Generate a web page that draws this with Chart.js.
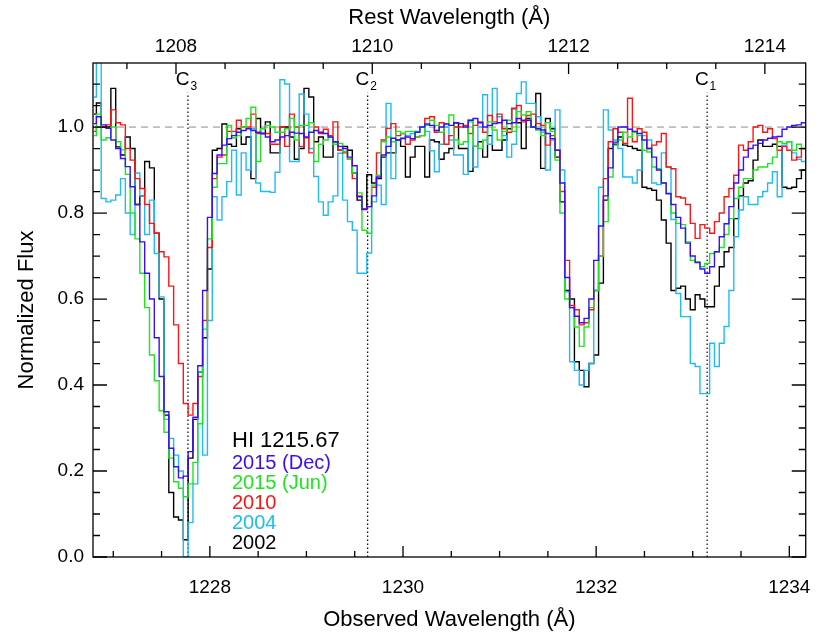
<!DOCTYPE html>
<html>
<head>
<meta charset="utf-8">
<script src="https://cdn.jsdelivr.net/npm/chart.js@4.4.1/dist/chart.umd.min.js"></script>
<style>
  html, body { margin: 0; padding: 0; background: #fff; }
  #wrap { width: 830px; height: 642px; }
</style>
</head>
<body>
<div id="wrap"><canvas id="spec" width="830" height="642"></canvas></div>
<script>
// observed wavelength grid: bin centres in Angstrom
const binStart = 1226.80;
const binWidth = 0.05;
const redshift = 0.016266; // rest = observed / (1 + z)

const flux2015Dec = [
  1.008, 1.024, 1.005, 0.997, 0.970, 0.950, 0.927, 0.908, 0.861, 0.820,
  0.733, 0.660, 0.600, 0.510, 0.420, 0.338, 0.253, 0.210, 0.184, 0.188,
  0.245, 0.325, 0.445, 0.620, 0.790, 0.892, 0.935, 0.958, 0.973, 0.980,
  0.988, 0.992, 0.996, 0.992, 0.988, 0.985, 0.977, 0.966, 0.970, 0.977,
  0.980, 0.988, 0.986, 0.985, 0.977, 0.988, 0.992, 0.988, 0.985, 0.977,
  0.966, 0.955, 0.950, 0.930, 0.910, 0.838, 0.808, 0.815, 0.840, 0.884,
  0.935, 0.955, 0.974, 0.970, 0.973, 0.977, 0.973, 0.988, 1.000, 1.007,
  1.004, 0.992, 1.000, 1.007, 1.004, 1.010, 1.008, 1.000, 1.016, 1.020,
  1.010, 1.000, 1.004, 1.008, 1.010, 1.016, 1.008, 1.010, 1.020, 1.016,
  1.016, 1.000, 0.996, 0.993, 0.985, 0.973, 0.946, 0.870, 0.650, 0.580,
  0.560, 0.545, 0.555, 0.600, 0.690, 0.770, 0.840, 0.905, 0.965, 1.000,
  1.000, 0.995, 0.990, 0.985, 0.970, 0.950, 0.930, 0.900, 0.870, 0.845,
  0.820, 0.790, 0.765, 0.730, 0.700, 0.685, 0.670, 0.660, 0.675, 0.710,
  0.745, 0.775, 0.815, 0.870, 0.900, 0.930, 0.950, 0.958, 0.962, 0.970,
  0.974, 0.977, 0.978, 0.995, 1.000, 1.004, 1.005, 1.010, 1.012
];
const flux2015Jun = [
  0.980, 1.030, 0.970, 0.975, 1.000, 0.966, 0.947, 0.890, 0.800, 0.740,
  0.660, 0.580, 0.470, 0.410, 0.340, 0.290, 0.230, 0.175, 0.160, 0.140,
  0.170, 0.220, 0.310, 0.530, 0.740, 0.860, 0.915, 0.915, 1.004, 0.975,
  0.980, 1.000, 1.020, 1.046, 0.920, 0.996, 1.004, 1.000, 0.988, 0.988,
  0.996, 1.020, 0.970, 1.004, 1.004, 1.010, 0.920, 0.960, 0.970, 0.977,
  0.960, 0.962, 0.943, 0.925, 0.893, 0.847, 0.760, 0.753, 0.865, 0.888,
  0.966, 0.977, 0.966, 0.990, 0.985, 0.990, 0.990, 0.977, 0.980, 1.004,
  1.016, 1.004, 0.988, 1.008, 1.028, 0.970, 0.960, 0.966, 1.012, 0.955,
  0.950, 0.970, 1.012, 0.993, 0.970, 0.990, 1.016, 0.990, 1.036, 1.028,
  1.036, 1.000, 0.993, 0.980, 1.010, 0.990, 0.923, 0.800, 0.600, 0.580,
  0.535, 0.490, 0.535, 0.580, 0.620, 0.700, 0.780, 0.884, 0.958, 0.970,
  0.988, 0.977, 0.988, 0.980, 0.946, 0.942, 0.907, 0.903, 0.870, 0.846,
  0.800, 0.776, 0.773, 0.733, 0.690, 0.686, 0.675, 0.683, 0.706, 0.710,
  0.720, 0.750, 0.787, 0.834, 0.860, 0.880, 0.880, 0.900, 0.907, 0.907,
  0.915, 0.930, 0.966, 0.962, 0.966, 0.946, 0.960, 0.950, 0.945
];
const flux2010 = [
  0.990, 1.000, 1.000, 1.005, 1.040, 1.010, 1.005, 0.950, 0.923, 0.880,
  0.857, 0.820, 0.776, 0.753, 0.710, 0.698, 0.630, 0.540, 0.450, 0.357,
  0.330, 0.357, 0.420, 0.550, 0.720, 0.880, 0.930, 0.935, 0.990, 0.990,
  1.016, 1.000, 1.000, 1.030, 0.985, 0.985, 0.985, 0.960, 0.960, 1.000,
  0.955, 1.030, 1.000, 0.955, 0.975, 0.940, 1.000, 0.985, 0.995, 0.980,
  1.012, 0.946, 0.940, 0.925, 0.880, 0.840, 0.810, 0.815, 0.860, 0.940,
  0.970, 0.997, 1.008, 0.980, 0.985, 0.960, 0.970, 0.977, 0.980, 1.020,
  1.024, 0.988, 1.010, 0.960, 0.980, 1.000, 1.000, 1.004, 0.985, 1.004,
  1.012, 0.988, 1.027, 1.012, 1.030, 0.996, 0.988, 1.043, 1.050, 1.012,
  1.027, 1.030, 1.008, 1.004, 0.958, 0.980, 0.946, 0.850, 0.690, 0.585,
  0.575, 0.540, 0.545, 0.575, 0.620, 0.700, 0.880, 0.966, 0.996, 0.988,
  0.962, 1.067, 0.966, 0.996, 0.988, 0.950, 0.958, 0.966, 0.985, 0.907,
  0.903, 0.838, 0.835, 0.820, 0.776, 0.741, 0.773, 0.765, 0.753, 0.780,
  0.800, 0.838, 0.857, 0.888, 0.958, 0.946, 0.966, 1.000, 1.004, 0.988,
  0.996, 0.973, 0.946, 0.955, 0.946, 0.923, 0.930, 0.950, 0.955
];
const flux2004 = [
  1.070, 1.200, 0.834, 0.826, 0.830, 0.842, 0.880, 0.800, 0.750, 0.893,
  0.840, 0.750, 0.830, 0.706, 0.605, 0.320, 0.276, 0.237, 0.200, 0.000,
  0.080, 0.170, 0.430, 0.237, 0.550, 0.838, 0.784, 0.838, 0.873, 0.946,
  0.842, 0.940, 0.900, 0.996, 0.870, 0.850, 0.850, 0.848, 0.895, 1.110,
  1.100, 0.920, 0.920, 1.077, 1.030, 0.950, 0.885, 0.826, 0.795, 0.826,
  0.840, 0.939, 0.830, 0.780, 0.760, 0.660, 0.660, 0.707, 0.826, 0.865,
  0.820, 1.055, 0.880, 0.970, 0.975, 0.980, 0.985, 0.990, 1.000, 0.990,
  0.945, 0.896, 0.960, 1.000, 0.970, 0.935, 0.935, 0.890, 1.016, 0.907,
  1.000, 1.075, 0.960, 1.090, 1.024, 0.980, 0.930, 0.960, 1.078, 1.105,
  1.055, 1.055, 1.024, 0.988, 0.900, 0.970, 1.040, 0.900, 0.617, 0.454,
  0.434, 0.400, 0.434, 0.450, 0.620, 0.860, 1.040, 0.993, 0.970, 0.950,
  0.884, 0.884, 0.870, 0.900, 0.980, 0.970, 0.870, 0.866, 0.940, 0.907,
  0.785, 0.613, 0.559, 0.559, 0.450, 0.443, 0.380, 0.380, 0.497, 0.443,
  0.497, 0.536, 0.620, 0.745, 0.807, 0.838, 0.820, 0.820, 0.838, 0.850,
  0.870, 0.896, 0.838, 0.958, 0.966, 0.940, 0.925, 0.920, 0.920
];
const flux2002 = [
  1.030, 1.056, 1.000, 1.000, 1.090, 0.954, 0.935, 0.977, 0.950, 0.820,
  0.840, 0.920, 0.905, 0.753, 0.600, 0.330, 0.150, 0.093, 0.086, 0.040,
  0.230, 0.320, 0.430, 0.510, 0.670, 0.946, 0.950, 1.007, 0.960, 0.955,
  0.996, 0.960, 0.977, 0.880, 1.020, 0.985, 1.012, 0.940, 0.940, 1.000,
  1.000, 0.977, 0.925, 0.950, 1.090, 1.070, 0.966, 0.977, 0.930, 0.930,
  0.966, 0.946, 0.955, 0.946, 0.893, 0.830, 0.810, 0.889, 0.870, 0.880,
  0.930, 0.940, 0.940, 0.970, 0.955, 0.884, 0.930, 0.955, 0.955, 0.884,
  0.970, 0.966, 0.925, 0.940, 0.950, 1.010, 0.950, 0.950, 0.897, 0.955,
  0.966, 0.930, 0.980, 0.946, 0.946, 0.970, 0.996, 1.043, 1.010, 0.950,
  1.020, 1.000, 1.078, 0.904, 1.020, 0.996, 0.930, 0.826, 0.620, 0.600,
  0.454, 0.434, 0.396, 0.450, 0.470, 0.637, 0.830, 0.950, 0.960, 0.977,
  0.958, 0.955, 0.950, 0.946, 0.860, 0.857, 0.853, 0.830, 0.784, 0.730,
  0.620, 0.625, 0.630, 0.600, 0.575, 0.610, 0.600, 0.582, 0.582, 0.630,
  0.675, 0.710, 0.720, 0.787, 0.840, 0.870, 0.875, 0.923, 0.970, 0.955,
  0.955, 0.960, 0.955, 0.860, 0.857, 0.860, 0.880, 0.900, 0.905
];

const seriesNames = ["2015 (Dec)", "2015 (Jun)", "2010", "2004", "2002"];
const seriesColors = ["#3a0dff", "#1ee61e", "#ff1414", "#1ebcf5", "#000000"];
const seriesFlux = [flux2015Dec, flux2015Jun, flux2010, flux2004, flux2002];

// absorption components C3, C2, C1 (observed wavelength)
const compNames = ["3", "2", "1"];
const compWave = [1227.773, 1229.634, 1233.149];

const obsTicks = [1228, 1230, 1232, 1234];
const restTicks = [1208, 1210, 1212, 1214];
const fluxTicks = [0.0, 0.2, 0.4, 0.6, 0.8, 1.0];

const xMin = 1226.79, xMax = 1234.17;
const yMin = 0, yMax = 1.149;

const wavelength = flux2015Dec.map((_, i) => +(binStart + binWidth * i).toFixed(3));

const fontName = "'Liberation Sans', Arial, sans-serif";

let datasets = seriesFlux.map((arr, k) => ({
  label: seriesNames[k],
  data: wavelength.map((w, i) => ({ x: w, y: arr[i] })),
  borderColor: seriesColors[k],
  borderWidth: 1.4,
  stepped: "middle",
  pointRadius: 0,
  fill: false,
}));

// continuum level
datasets.push({
  label: "continuum",
  data: [{ x: xMin, y: 1 }, { x: xMax, y: 1 }],
  borderColor: "#8c8c8c",
  borderWidth: 1,
  borderDash: [7, 5],
  pointRadius: 0,
});

compWave.forEach((w) => {
  datasets.push({
    label: "C",
    data: [{ x: w, y: 0 }, { x: w, y: 1.08 }],
    borderColor: "#000",
    borderWidth: 1.2,
    borderDash: [1.5, 2.5],
    pointRadius: 0,
  });
});

function tickSteps(min, max, step) {
  let out = [];
  for (let v = Math.ceil(min / step) * step; v <= max + 1e-9; v += step) {
    out.push(+v.toFixed(4));
  }
  return out;
}

function isMultiple(v, m) {
  return Math.abs(v / m - Math.round(v / m)) < 1e-6;
}

// IDL-like box with inward ticks, component labels, text legend
const decor = {
  id: "decor",
  afterDraw(chart) {
    const ctx = chart.ctx;
    const a = chart.chartArea;
    const sx = chart.scales.x, st = chart.scales.xTop, sy = chart.scales.y;
    ctx.save();
    ctx.strokeStyle = "#000";
    ctx.lineWidth = 1.3;
    ctx.strokeRect(a.left, a.top, a.right - a.left, a.bottom - a.top);

    ctx.beginPath();
    tickSteps(xMin, xMax, 0.5).forEach((v) => {
      const p = sx.getPixelForValue(v);
      const len = isMultiple(v, 2) ? 11 : 6;
      ctx.moveTo(p, a.bottom);
      ctx.lineTo(p, a.bottom - len);
    });
    tickSteps(st.min, st.max, 0.5).forEach((v) => {
      const p = st.getPixelForValue(v);
      const len = isMultiple(v, 2) ? 11 : 6;
      ctx.moveTo(p, a.top);
      ctx.lineTo(p, a.top + len);
    });
    tickSteps(yMin, yMax, 0.05).forEach((v) => {
      const p = sy.getPixelForValue(v);
      const len = isMultiple(v, 0.2) ? 14 : 7;
      ctx.moveTo(a.left, p);
      ctx.lineTo(a.left + len, p);
      ctx.moveTo(a.right, p);
      ctx.lineTo(a.right - len, p);
    });
    ctx.stroke();

    // component labels
    ctx.fillStyle = "#000";
    ctx.textBaseline = "alphabetic";
    compWave.forEach((w, k) => {
      const p = sx.getPixelForValue(w);
      ctx.font = "19px " + fontName;
      ctx.textAlign = "right";
      ctx.fillText("C", p + 1.5, a.top + 22);
      ctx.font = "12px " + fontName;
      ctx.textAlign = "left";
      ctx.fillText(compNames[k], p + 2.5, a.top + 27);
    });

    // legend text
    const lx = a.left + 139;
    ctx.textAlign = "left";
    ctx.textBaseline = "middle";
    ctx.font = "22px " + fontName;
    ctx.fillStyle = "#000";
    ctx.fillText("HI 1215.67", lx, a.bottom - 116);
    ctx.font = "20px " + fontName;
    seriesNames.forEach((name, k) => {
      ctx.fillStyle = seriesColors[k];
      ctx.fillText(name, lx, a.bottom - 94 + k * 20.2);
    });
    ctx.restore();
  },
};

const tickFont = { family: fontName, size: 19 };
const titleFont = { family: fontName, size: 22 };

const config = {
  type: "line",
  data: { datasets: datasets },
  options: {
    responsive: false,
    animation: false,
    layout: { padding: { left: 0, right: 23, top: 0, bottom: 0 } },
    plugins: {
      legend: { display: false },
      tooltip: { enabled: false },
    },
    scales: {
      x: {
        type: "linear",
        position: "bottom",
        min: xMin,
        max: xMax,
        grid: { display: false, drawTicks: false },
        border: { display: false },
        afterBuildTicks: (s) => { s.ticks = obsTicks.map((v) => ({ value: v })); },
        afterFit: (s) => { s.height = 85; },
        ticks: {
          font: tickFont, color: "#000", padding: 19,
          maxRotation: 0, autoSkip: false,
          callback: (v) => String(v),
        },
        title: {
          display: true, text: "Observed Wavelength (Å)",
          font: titleFont, color: "#000", padding: { top: 0, bottom: 9 },
        },
      },
      xTop: {
        type: "linear",
        position: "top",
        min: xMin / (1 + redshift),
        max: xMax / (1 + redshift),
        grid: { display: false, drawTicks: false },
        border: { display: false },
        afterBuildTicks: (s) => { s.ticks = restTicks.map((v) => ({ value: v })); },
        afterFit: (s) => { s.height = 63; },
        ticks: {
          font: tickFont, color: "#000", padding: 5,
          maxRotation: 0, autoSkip: false,
          callback: (v) => String(v),
        },
        title: {
          display: true, text: "Rest Wavelength (Å)",
          font: titleFont, color: "#000", padding: { top: 5, bottom: 0 },
        },
      },
      y: {
        type: "linear",
        min: yMin,
        max: yMax,
        grid: { display: false, drawTicks: false },
        border: { display: false },
        afterBuildTicks: (s) => { s.ticks = fluxTicks.map((v) => ({ value: v })); },
        afterFit: (s) => { s.width = 93; },
        ticks: {
          font: tickFont, color: "#000", padding: 9,
          callback: (v) => v.toFixed(1),
        },
        title: {
          display: true, text: "Normalized Flux",
          font: titleFont, color: "#000", padding: { top: 14, bottom: 0 },
        },
      },
    },
  },
  plugins: [decor],
};

var chart = new Chart(document.getElementById("spec"), config);
</script>
</body>
</html>
